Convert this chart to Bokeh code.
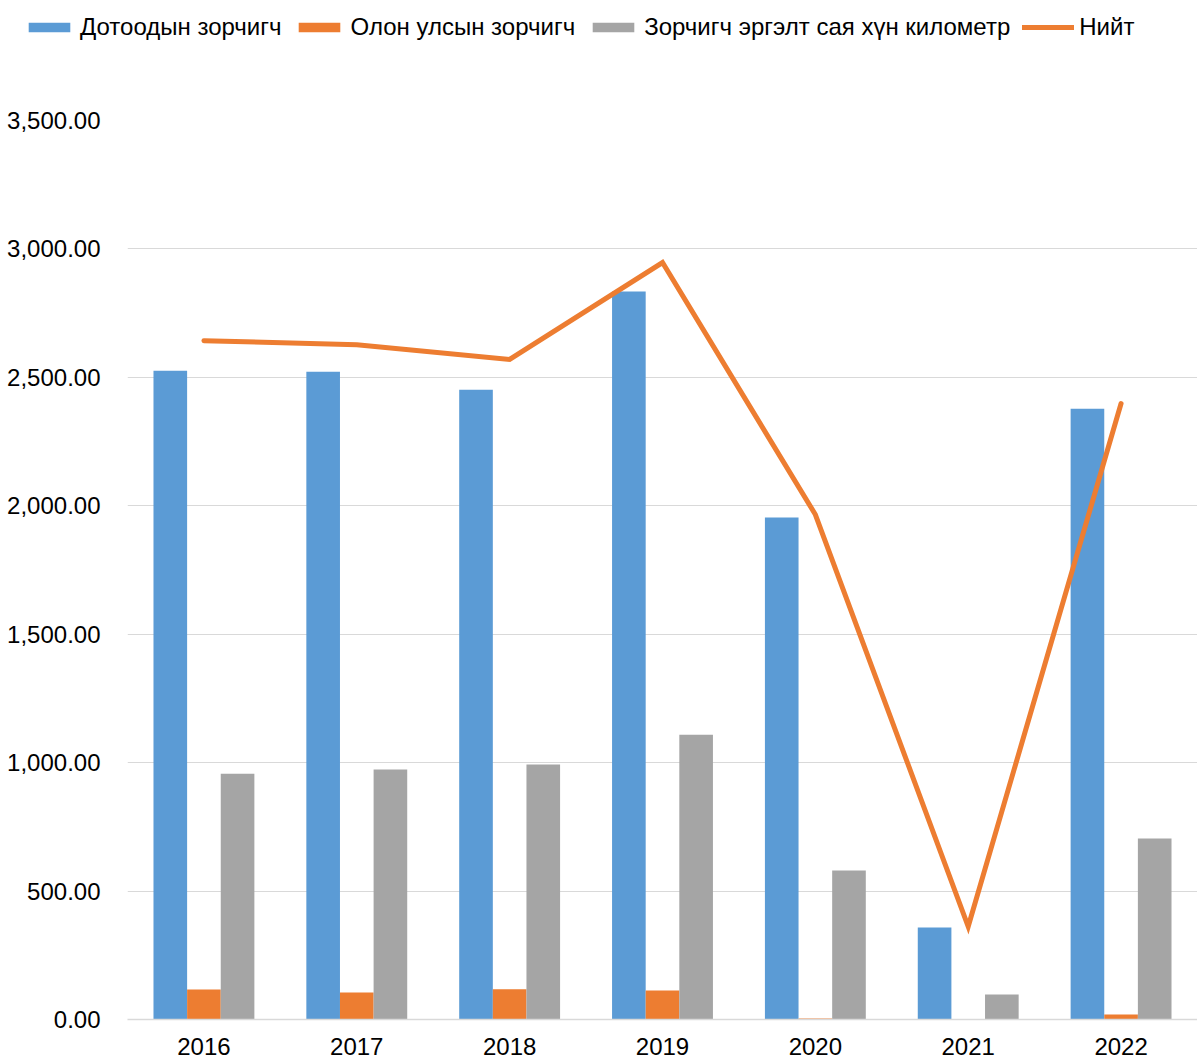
from bokeh.plotting import figure
from bokeh.models import (ColumnDataSource, FactorRange, Range1d, FixedTicker,
                          NumeralTickFormatter, Legend, LegendItem)
from bokeh.transform import dodge
from bokeh.embed import file_html
from bokeh.resources import INLINE

years = ["2016", "2017", "2018", "2019", "2020", "2021", "2022"]
domestic = [2526, 2522, 2452, 2834, 1954, 358, 2378]
international = [117, 105, 118, 113, 4, 0, 19]
passenger_km = [957, 973, 993, 1109, 580, 97, 705]
total = [2643, 2627, 2570, 2947, 1966, 362, 2398]
y_ticks = [0, 500, 1000, 1500, 2000, 2500, 3000, 3500]
series_names = ["Дотоодын зорчигч", "Олон улсын зорчигч",
                "Зорчигч эргэлт сая хүн километр", "Нийт"]

src = ColumnDataSource(dict(year=years, dom=domestic, intl=international,
                            pkm=passenger_km, tot=total))

FONT = "Liberation Sans"
BLUE, ORANGE, GRAY = "#5B9BD5", "#ED7D31", "#A5A5A5"
bw = 0.22


def add_series(fig, visible=True):
    rs = [
        fig.vbar(x=dodge("year", -bw, range=fig.x_range), top="dom", width=bw,
                 source=src, fill_color=BLUE, line_color=None, visible=visible),
        fig.vbar(x=dodge("year", 0, range=fig.x_range), top="intl", width=bw,
                 source=src, fill_color=ORANGE, line_color=None, visible=visible),
        fig.vbar(x=dodge("year", bw, range=fig.x_range), top="pkm", width=bw,
                 source=src, fill_color=GRAY, line_color=None, visible=visible),
        fig.line(x="year", y="tot", source=src, line_color=ORANGE,
                 line_width=5, line_cap="round", line_join="miter",
                 visible=visible),
    ]
    return rs


# ---- legend strip on top (separate root, so its frame spans the full width) ----
pl = figure(x_range=FactorRange(*years, range_padding=0),
            y_range=Range1d(0, 3500),
            width=1197, height=105,
            min_border_left=0, min_border_right=0,
            min_border_top=0, min_border_bottom=0,
            x_axis_location=None, y_axis_location=None,
            output_backend="svg", toolbar_location=None)
pl.outline_line_color = None
pl.grid.grid_line_color = None
lr = add_series(pl, visible=False)
legend = Legend(items=[LegendItem(label=n, renderers=[r])
                       for n, r in zip(series_names, lr)],
                orientation="horizontal", location=(23, 64))
legend.border_line_color = None
legend.background_fill_alpha = 0
legend.inactive_fill_alpha = 0
legend.padding = 0
legend.margin = 0
legend.spacing = 12
legend.glyph_width = 52
legend.glyph_height = 12
legend.label_standoff = 5
legend.label_text_font = FONT
legend.label_text_font_size = "24px"
legend.label_text_color = "#000000"
legend.label_height = 26
pl.add_layout(legend, "center")

# ---- main chart ----
p = figure(x_range=FactorRange(*years, range_padding=0),
           y_range=Range1d(0, 3500),
           width=1197, height=954,
           min_border_left=127, min_border_right=0,
           min_border_top=15, min_border_bottom=40,
           output_backend="svg", toolbar_location=None)
p.outline_line_color = None
add_series(p)

p.yaxis.ticker = FixedTicker(ticks=y_ticks)
p.yaxis.formatter = NumeralTickFormatter(format="0,0.00")
p.yaxis.axis_line_color = None
p.yaxis.major_tick_line_color = None
p.yaxis.minor_tick_line_color = None
p.yaxis.major_label_standoff = 21
p.yaxis.major_label_text_font = FONT
p.yaxis.major_label_text_font_size = "24px"
p.yaxis.major_label_text_color = "#000000"

p.xaxis.axis_line_color = "#D9D9D9"
p.xaxis.axis_line_width = 1.5
p.xaxis.major_tick_line_color = None
p.xaxis.minor_tick_line_color = None
p.xaxis.major_label_standoff = 12
p.xaxis.major_label_text_font = FONT
p.xaxis.major_label_text_font_size = "24px"
p.xaxis.major_label_text_color = "#000000"

p.xgrid.grid_line_color = None
p.ygrid.grid_line_color = "#D9D9D9"
p.ygrid.grid_line_width = 1.2

open("out.html", "w").write(file_html([pl, p], INLINE))
